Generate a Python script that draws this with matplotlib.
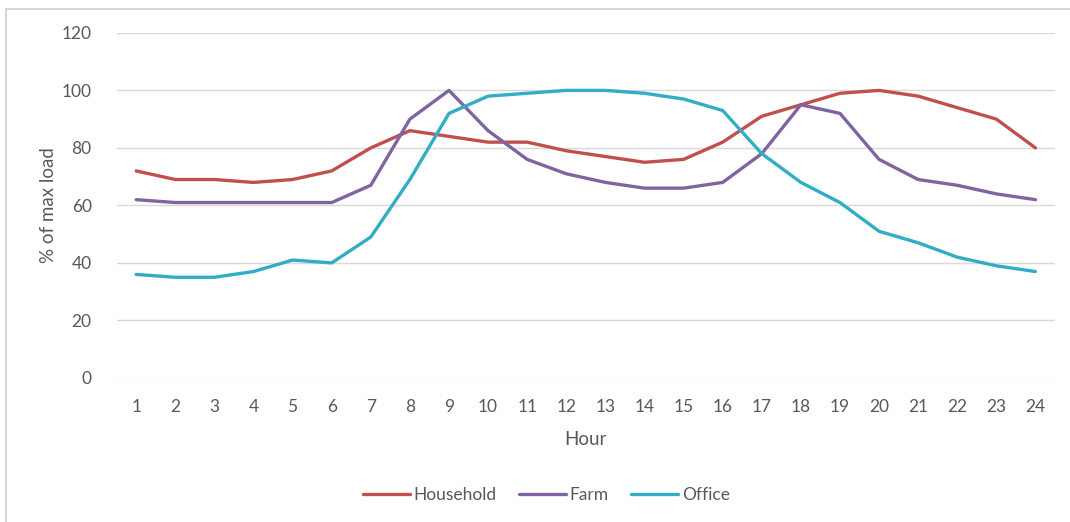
import matplotlib.pyplot as plt
from matplotlib.lines import Line2D

hours = list(range(1, 25))
household = [72, 69, 69, 68, 69, 72, 80, 86, 84, 82, 82, 79, 77, 75, 76, 82,
             91, 95, 99, 100, 98, 94, 90, 80]
farm = [62, 61, 61, 61, 61, 61, 67, 90, 100, 86, 76, 71, 68, 66, 66, 68,
        78, 95, 92, 76, 69, 67, 64, 62]
office = [36, 35, 35, 37, 41, 40, 49, 69, 92, 98, 99, 100, 100, 99, 97, 93,
          78, 68, 61, 51, 47, 42, 39, 37]

series = {'Household': (household, '#C0504D'),
          'Farm': (farm, '#8064A2'),
          'Office': (office, '#31ADC6')}

plt.rcParams['font.family'] = ['Lato', 'DejaVu Sans']
text_col = '#595959'

fig = plt.figure(figsize=(10.7, 5.22), dpi=100)
ax = fig.add_axes([0.109, 0.276, 0.877, 0.661])

for name, (vals, col) in series.items():
    ax.plot(hours, vals, color=col, lw=2.4, label=name, solid_capstyle='round')

ax.set_xlim(0.5, 24.5)
ax.set_ylim(0, 120)
ax.set_yticks(range(0, 121, 20))
ax.set_xticks(hours)
ax.grid(axis='y', color='#D9D9D9', lw=1)
ax.set_axisbelow(True)
for s in ax.spines.values():
    s.set_visible(False)
ax.tick_params(length=0, labelsize=12.5, colors=text_col, pad=15)
ax.tick_params(axis='y', pad=18)

ax.set_ylabel('% of max load', fontsize=13.5, color=text_col, labelpad=3)
ax.set_xlabel('Hour', fontsize=13.5, color=text_col, labelpad=12)

ax.legend(loc='upper center', bbox_to_anchor=(0.458, -0.27), ncol=3, frameon=False,
          fontsize=12.5, labelcolor=text_col, handlelength=2.7, handletextpad=0.2,
          columnspacing=1.3)

# chart area border (left and top)
fig.add_artist(Line2D([6 / 1070, 6 / 1070], [0, 1 - 9 / 522], transform=fig.transFigure,
                      color='#D0D0D0', lw=1.2))
fig.add_artist(Line2D([6 / 1070, 1], [1 - 9 / 522, 1 - 9 / 522], transform=fig.transFigure,
                      color='#D0D0D0', lw=1.2))

plt.savefig('out.png', dpi=100)
